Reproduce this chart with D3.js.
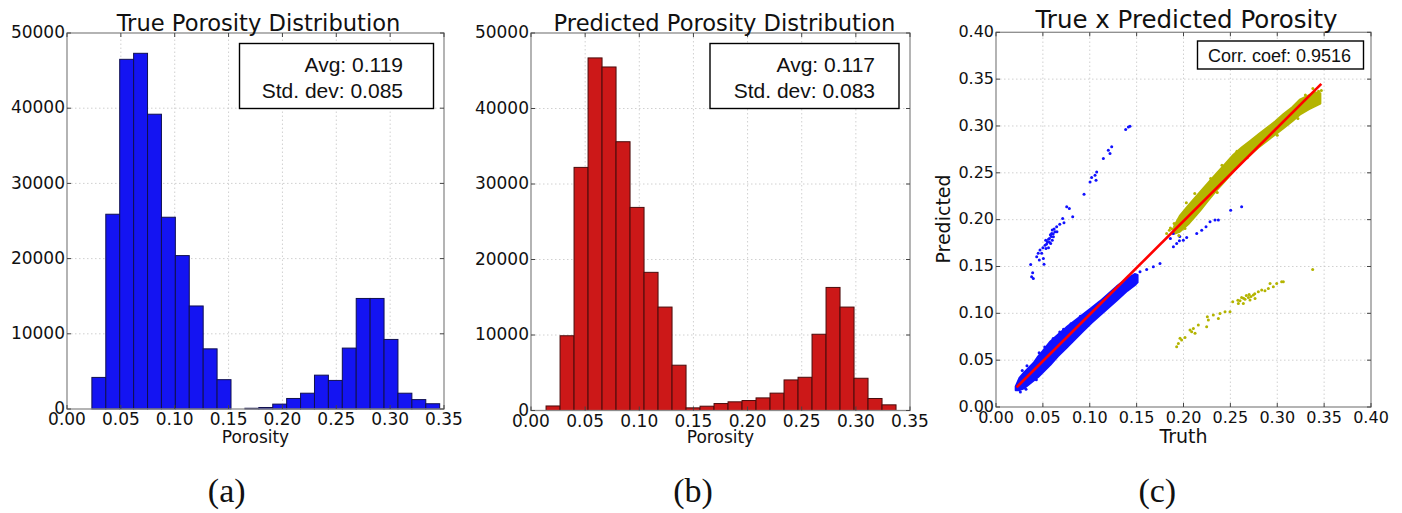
<!DOCTYPE html>
<html lang="en">
<head>
<meta charset="UTF-8">
<title>Porosity distributions</title>
<script src="https://cdnjs.cloudflare.com/ajax/libs/d3/7.8.5/d3.min.js"></script>
<style>
  * { margin: 0; padding: 0; }
  body { background: #fff; width: 1402px; height: 513px; overflow: hidden; }
  svg text { font-family: "DejaVu Sans", sans-serif; fill: #111; }
  .box-text { font-family: "Liberation Sans", Arial, sans-serif; }
  .sub-label { font-family: "Liberation Serif", serif; }
  .grid line { stroke: #c4c4c4; stroke-width: 0.8; stroke-dasharray: 1.5,2.5; }
  .frame { fill: none; stroke: #8c8c8c; stroke-width: 1.3; }
</style>
</head>
<body>
<div id="chart"></div>
<script>
// histogram ranges (first bin left edge, last bin right edge), 25 bins each
const trueBinRange = [0.0231, 0.3460];
const predBinRange = [0.0139, 0.3371];
// counts per bin
const trueCounts = [4200, 25900, 46500, 47300, 39200, 25500, 20400, 13700, 8000, 3900,
  0, 100, 200, 650, 1400, 2100, 4500, 3800, 8100, 14700, 14700, 9250, 2100, 1250, 700];
const predCounts = [600, 9900, 32200, 46700, 45500, 35600, 26900, 18300, 13700, 6000,
  350, 570, 920, 1150, 1320, 1670, 2300, 4050, 4400, 10100, 16300, 13700, 4270, 1590, 750];

const histTicksX = [0, 0.05, 0.10, 0.15, 0.20, 0.25, 0.30, 0.35];
const histTicksY = [0, 10000, 20000, 30000, 40000, 50000];
const scatterTicks = [0, 0.05, 0.10, 0.15, 0.20, 0.25, 0.30, 0.35, 0.40];

const trueStats = ["Avg: 0.119", "Std. dev: 0.085"];
const predStats = ["Avg: 0.117", "Std. dev: 0.083"];
const corrText = "Corr. coef: 0.9516";

// dense part of the scatter: [truth, predicted low, predicted high]
const blueBand = [
  [0.021, 0.018, 0.022], [0.025, 0.018, 0.031], [0.030, 0.020, 0.037],
  [0.035, 0.024, 0.042], [0.040, 0.028, 0.047], [0.045, 0.032, 0.054],
  [0.050, 0.037, 0.060], [0.058, 0.045, 0.070], [0.066, 0.054, 0.077],
  [0.075, 0.063, 0.085], [0.084, 0.072, 0.092], [0.093, 0.081, 0.099],
  [0.102, 0.090, 0.106], [0.111, 0.098, 0.113], [0.120, 0.106, 0.121],
  [0.129, 0.114, 0.129], [0.140, 0.124, 0.137], [0.148, 0.130, 0.142],
  [0.151, 0.133, 0.141]
];
const yellowBand = [
  [0.190, 0.185, 0.193], [0.196, 0.187, 0.204], [0.205, 0.195, 0.215],
  [0.218, 0.210, 0.230], [0.226, 0.220, 0.239], [0.235, 0.231, 0.249],
  [0.244, 0.241, 0.259], [0.253, 0.251, 0.269], [0.262, 0.261, 0.277],
  [0.271, 0.269, 0.284], [0.280, 0.277, 0.291], [0.289, 0.284, 0.298],
  [0.298, 0.291, 0.305], [0.307, 0.298, 0.313], [0.316, 0.305, 0.320],
  [0.324, 0.312, 0.328], [0.334, 0.318, 0.333], [0.340, 0.321, 0.336],
  [0.346, 0.324, 0.335]
];
// scattered points [truth, predicted]
const bluePoints = [
  [0.1412, 0.299], [0.1429, 0.2997], [0.1383, 0.2962], [0.1234, 0.2777],
  [0.1198, 0.274], [0.1216, 0.2706], [0.1145, 0.2653], [0.1074, 0.251],
  [0.1056, 0.2475], [0.102, 0.245], [0.1003, 0.2403], [0.1067, 0.2421],
  [0.0939, 0.2272], [0.0754, 0.2137], [0.0782, 0.212], [0.0818, 0.203],
  [0.0711, 0.2013], [0.0725, 0.1966], [0.0647, 0.1923], [0.0629, 0.187],
  [0.0594, 0.1853], [0.0612, 0.1817], [0.057, 0.18], [0.0548, 0.1763],
  [0.0583, 0.1746], [0.0523, 0.1728], [0.0533, 0.1693], [0.0469, 0.1675],
  [0.0487, 0.164], [0.0434, 0.1603], [0.0505, 0.1586], [0.0462, 0.1568],
  [0.0512, 0.1525], [0.037, 0.1522], [0.0391, 0.1433], [0.0398, 0.1373],
  [0.038, 0.139], [0.0600, 0.1890], [0.0620, 0.1900], [0.0580, 0.1840],
  [0.0560, 0.1790], [0.0540, 0.1740], [0.0600, 0.1780], [0.0650, 0.1870],
  [0.0500, 0.1700], [0.0560, 0.1700], [0.0610, 0.1850], [0.0530, 0.1780],
  [0.0450, 0.1640], [0.0680, 0.1950], [0.0590, 0.1820], [0.0570, 0.1760],
  [0.1536, 0.1443], [0.1607, 0.1468], [0.1678, 0.1497], [0.1749, 0.1532],
  [0.1892, 0.171], [0.1927, 0.1746], [0.1956, 0.1774], [0.1998, 0.1781],
  [0.2034, 0.181], [0.2141, 0.1853], [0.2194, 0.1888], [0.224, 0.1923],
  [0.2283, 0.1977], [0.2336, 0.1995], [0.2372, 0.1995], [0.2503, 0.2101],
  [0.262, 0.2137], [0.1890, 0.1853], [0.1860, 0.1800], [0.1960, 0.1820],
  // ragged edge of the dense band
  [0.028, 0.039], [0.033, 0.044], [0.046, 0.058], [0.052, 0.064],
  [0.061, 0.073], [0.068, 0.080], [0.072, 0.083], [0.080, 0.089],
  [0.026, 0.016], [0.032, 0.019], [0.043, 0.029], [0.090, 0.097]
];
const yellowPoints = [
  [0.1927, 0.0643], [0.1945, 0.0679], [0.198, 0.0715], [0.2016, 0.0743],
  [0.1963, 0.0733], [0.2087, 0.0804], [0.2105, 0.0839], [0.2069, 0.0821],
  [0.2123, 0.0786], [0.2158, 0.0875], [0.2247, 0.0857], [0.2265, 0.0928],
  [0.2254, 0.0963], [0.2318, 0.0981], [0.2372, 0.0946], [0.2389, 0.0999],
  [0.2443, 0.1017], [0.2496, 0.1017], [0.2525, 0.1123], [0.2585, 0.1106],
  [0.2603, 0.1134], [0.2638, 0.1106], [0.2656, 0.1149], [0.2692, 0.117],
  [0.2709, 0.1141], [0.2745, 0.1195], [0.2763, 0.1159], [0.2798, 0.123],
  [0.2834, 0.1248], [0.2869, 0.1241], [0.2905, 0.1266], [0.2923, 0.1319],
  [0.2958, 0.1283], [0.2994, 0.1319], [0.3047, 0.1337], [0.3065, 0.1337],
  [0.3378, 0.1469], [0.2620, 0.1170], [0.2670, 0.1190], [0.2700, 0.1200],
  [0.2580, 0.1140], [0.2640, 0.1160], [0.2720, 0.1180], [0.2760, 0.1210],
  [0.182, 0.1853], [0.1849, 0.1888], [0.2016, 0.1906], [0.1880, 0.1900],
  [0.1900, 0.1960], [0.3470, 0.3380], [0.3440, 0.3370], [0.3300, 0.3330],
  // ragged edge of the dense band
  [0.203, 0.218], [0.212, 0.228], [0.229, 0.244], [0.241, 0.258],
  [0.257, 0.273], [0.236, 0.229], [0.268, 0.266], [0.300, 0.290],
  [0.322, 0.308], [0.338, 0.340], [0.195, 0.183], [0.186, 0.191]
];
const fitLine = [[0.022, 0.021], [0.347, 0.345]];

const svg = d3.select("#chart").append("svg")
  .attr("width", 1402).attr("height", 513);

function axesGrid(g, x, y, xTicks, yTicks) {
  const [x0, x1] = x.range();
  const [y0, y1] = y.range();
  const grid = g.append("g").attr("class", "grid");
  grid.selectAll(".gx").data(xTicks.slice(1, -1)).join("line")
    .attr("x1", d => x(d)).attr("x2", d => x(d)).attr("y1", y0).attr("y2", y1);
  grid.selectAll(".gy").data(yTicks.slice(1, -1)).join("line")
    .attr("class", "gy")
    .attr("x1", x0).attr("x2", x1).attr("y1", d => y(d)).attr("y2", d => y(d));
}

function axesDecor(g, x, y, xTicks, yTicks, opt) {
  const [x0, x1] = x.range();
  const [y0, y1] = y.range();
  g.append("rect").attr("class", "frame")
    .attr("x", x0).attr("y", y1).attr("width", x1 - x0).attr("height", y0 - y1);

  // inward ticks on all four sides
  const t = g.append("g").attr("stroke", "#444").attr("stroke-width", 1);
  xTicks.forEach(d => {
    t.append("line").attr("x1", x(d)).attr("x2", x(d)).attr("y1", y0).attr("y2", y0 - 4);
    t.append("line").attr("x1", x(d)).attr("x2", x(d)).attr("y1", y1).attr("y2", y1 + 4);
  });
  yTicks.forEach(d => {
    t.append("line").attr("x1", x0).attr("x2", x0 + 4).attr("y1", y(d)).attr("y2", y(d));
    t.append("line").attr("x1", x1).attr("x2", x1 - 4).attr("y1", y(d)).attr("y2", y(d));
  });

  g.selectAll(".xl").data(xTicks).join("text")
    .attr("x", d => x(d)).attr("y", y0 + opt.xLabelDy)
    .attr("text-anchor", "middle").attr("font-size", opt.tickSize)
    .text(d => d.toFixed(2));
  g.selectAll(".yl").data(yTicks).join("text")
    .attr("x", x0 - 2).attr("y", d => y(d)).attr("dy", "0.3em")
    .attr("text-anchor", "end").attr("font-size", opt.tickSize)
    .text(opt.yFormat);

  g.append("text").attr("x", (x0 + x1) / 2 + opt.titleShift).attr("y", opt.titleY)
    .attr("text-anchor", "middle").attr("font-size", opt.titleSize)
    .text(opt.title);
  g.append("text").attr("x", (x0 + x1) / 2).attr("y", 443)
    .attr("text-anchor", "middle").attr("font-size", opt.labelSize)
    .text(opt.xLabel);
}

function statsBox(g, box, lines, size, rightX, baselines) {
  g.append("rect").attr("x", box[0]).attr("y", box[1])
    .attr("width", box[2]).attr("height", box[3])
    .attr("fill", "#fff").attr("stroke", "#000").attr("stroke-width", 1.4);
  g.selectAll(".bt").data(lines).join("text")
    .attr("class", "box-text")
    .attr("x", rightX).attr("y", (d, i) => baselines[i])
    .attr("text-anchor", "end").attr("font-size", size)
    .text(d => d);
}

function histogram(opt) {
  const g = svg.append("g");
  const x = d3.scaleLinear().domain([0, 0.35]).range([opt.left, opt.right]);
  const y = d3.scaleLinear().domain([0, 50000]).range([opt.bottom, opt.top]);
  axesGrid(g, x, y, histTicksX, histTicksY);

  const n = opt.counts.length;
  const step = (opt.binRange[1] - opt.binRange[0]) / n;
  const bins = opt.counts.map((c, i) => ({
    x0: opt.binRange[0] + i * step, x1: opt.binRange[0] + (i + 1) * step, c
  }));
  g.selectAll(".bar").data(bins.filter(b => b.c > 0)).join("rect")
    .attr("x", d => x(d.x0)).attr("width", d => x(d.x1) - x(d.x0))
    .attr("y", d => y(d.c)).attr("height", d => y(0) - y(d.c))
    .attr("fill", opt.fill).attr("stroke", opt.edge).attr("stroke-width", 1);

  axesDecor(g, x, y, histTicksX, histTicksY, {
    tickSize: 17, xLabelDy: 16, yFormat: d => d, title: opt.title,
    titleY: 30.5, titleSize: 22.6, titleShift: opt.titleShift,
    xLabel: "Porosity", labelSize: 17
  });
  statsBox(g, opt.box, opt.stats, 21, opt.textRight, [71.5, 97.5]);
}

histogram({
  left: 67, right: 444, top: 33, bottom: 409,
  binRange: trueBinRange, counts: trueCounts,
  fill: "#1414f2", edge: "#101050",
  title: "True Porosity Distribution", titleShift: 3,
  box: [239.5, 43.5, 194, 65], stats: trueStats, textRight: 403
});
histogram({
  left: 531, right: 910, top: 33, bottom: 410.5,
  binRange: predBinRange, counts: predCounts,
  fill: "#cc1818", edge: "#4a0c0c",
  title: "Predicted Porosity Distribution", titleShift: 4,
  box: [710, 43.5, 189, 65], stats: predStats, textRight: 875
});

// scatter panel
{
  const g = svg.append("g");
  const x = d3.scaleLinear().domain([0, 0.4]).range([996, 1371]);
  const y = d3.scaleLinear().domain([0, 0.4]).range([407, 32.3]);
  axesGrid(g, x, y, scatterTicks, scatterTicks);

  const band = d3.area().x(d => x(d[0])).y0(d => y(d[1])).y1(d => y(d[2]));
  g.append("path").datum(blueBand).attr("d", band)
    .attr("fill", "#1010ff").attr("stroke", "#1010ff").attr("stroke-width", 2)
    .attr("stroke-linejoin", "round");
  g.append("path").datum(yellowBand).attr("d", band)
    .attr("fill", "#b4b400").attr("stroke", "#b4b400").attr("stroke-width", 2)
    .attr("stroke-linejoin", "round");

  g.selectAll(".bp").data(bluePoints).join("circle")
    .attr("cx", d => x(d[0])).attr("cy", d => y(d[1])).attr("r", 1.5)
    .attr("fill", "#1010ff");
  g.selectAll(".yp").data(yellowPoints).join("circle")
    .attr("cx", d => x(d[0])).attr("cy", d => y(d[1])).attr("r", 1.5)
    .attr("fill", "#b4b400");

  g.append("path").datum(fitLine)
    .attr("d", d3.line().x(d => x(d[0])).y(d => y(d[1])))
    .attr("stroke", "#ff0000").attr("stroke-width", 2.6).attr("fill", "none");

  axesDecor(g, x, y, scatterTicks, scatterTicks, {
    tickSize: 16, xLabelDy: 15.7, yFormat: d => d.toFixed(2),
    title: "True x Predicted Porosity", titleY: 28.3, titleSize: 24.5, titleShift: 3,
    xLabel: "Truth", labelSize: 19
  });
  g.append("text").attr("transform", "translate(950,219) rotate(-90)")
    .attr("text-anchor", "middle").attr("font-size", 19).text("Predicted");

  statsBox(g, [1197.5, 41, 166, 28], [corrText], 18, 1351, [61.5]);
}

// sub-figure labels
svg.selectAll(".sub").data(["(a)", "(b)", "(c)"]).join("text")
  .attr("class", "sub-label")
  .attr("x", (d, i) => [226.7, 693, 1157.3][i]).attr("y", 502)
  .attr("text-anchor", "middle").attr("font-size", 34)
  .text(d => d);
</script>
</body>
</html>
